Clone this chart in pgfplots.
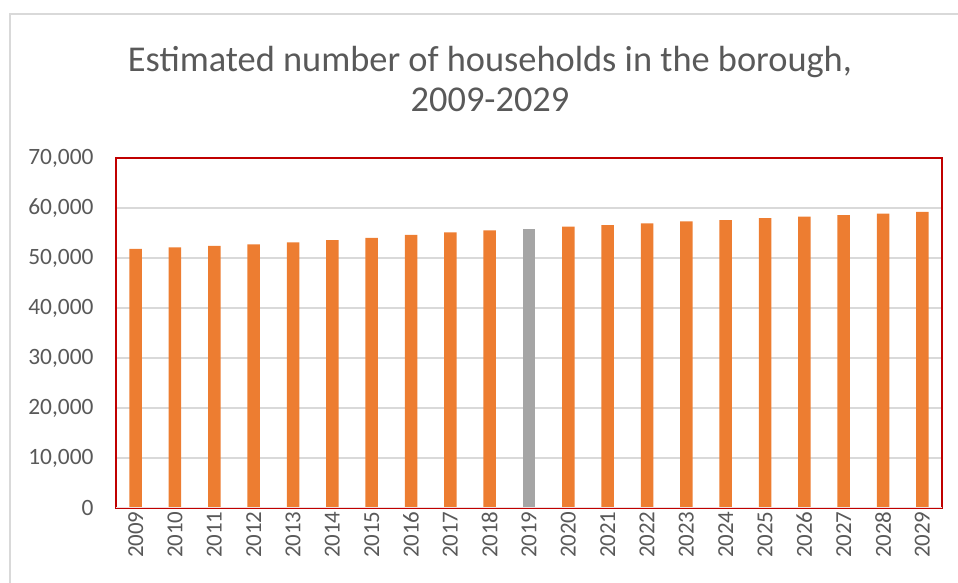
\documentclass[border=0pt]{standalone}
\usepackage{fontspec}
\setmainfont{Carlito}
\usepackage{pgfplots}
\pgfplotsset{compat=1.18}
\definecolor{barorange}{HTML}{ED7D31}
\definecolor{bargray}{HTML}{A5A5A5}
\definecolor{gridgray}{HTML}{D9D9D9}
\definecolor{txtgray}{HTML}{595959}
\definecolor{framered}{HTML}{C00000}
\begin{document}
\begin{tikzpicture}[x=1bp,y=1bp]
\path[use as bounding box] (-116,-75) rectangle (842,508);
\draw[gridgray, line width=1.2bp] (-106,-75) -- (-106,494) -- (842,494);
\node[txtgray, align=center, font=\fontsize{36.5}{40}\selectfont] at (374,429)
  {Estimated number of households in the borough,\\2009-2029};
\begin{axis}[
  at={(0,0)}, anchor=south west,
  scale only axis, width=826bp, height=350bp,
  xmin=-0.5, xmax=20.5, ymin=0, ymax=70000,
  ytick={0,10000,...,70000},
  xtick={0,...,20},
  xticklabels={2009,2010,2011,2012,2013,2014,2015,2016,2017,2018,2019,2020,2021,2022,2023,2024,2025,2026,2027,2028,2029},
  x tick label style={rotate=90, anchor=east, font=\fontsize{23}{26}\selectfont, text=txtgray},
  y tick label style={font=\fontsize{23.5}{26}\selectfont, text=txtgray, xshift=-19bp},
  /pgf/number format/assume math mode=true,
  /pgf/number format/1000 sep={,},
  scaled y ticks=false,
  major tick length=0pt,
  ymajorgrids, grid style={gridgray, line width=1.2bp},
  axis line style={framered, line width=1.2bp},
  axis on top=false,
]
\addplot[ybar, bar shift=0pt, bar width=12.5bp, fill=barorange, draw=none] coordinates {
(0,51800) (1,52100) (2,52400) (3,52700) (4,53100) (5,53550) (6,54000) (7,54600) (8,55100) (9,55500)
(11,56250) (12,56550) (13,56900) (14,57300) (15,57550) (16,57950) (17,58250) (18,58550) (19,58850) (20,59200)};
\addplot[ybar, bar shift=0pt, bar width=12.5bp, fill=bargray, draw=none] coordinates {(10,55750)};
\draw[gridgray!80!framered!40, line width=1.5bp] (axis cs:-0.5,0) -- (axis cs:20.5,0);
\end{axis}
\end{tikzpicture}
\end{document}
